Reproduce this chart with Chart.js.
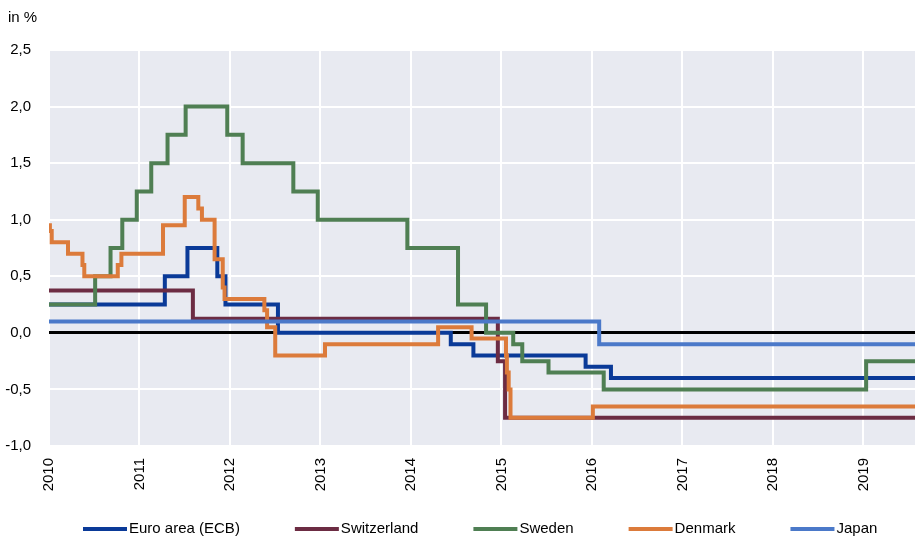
<!DOCTYPE html>
<html lang="en">
<head>
  <meta charset="UTF-8">
  <title>Policy rates</title>
  <style>
    body {
      margin: 0;
      background: #fff;
    }
    .chart-box {
      position: relative;
      width: 915px;
      height: 539px;
    }
  </style>
</head>
<body>
  <div class="chart-box">
    <canvas id="rateChart"></canvas>
  </div>

  <script src="https://cdn.jsdelivr.net/npm/chart.js"></script>
  <script>
    // x range in decimal years
    const xStart = 2010;
    const xEnd = 2019.57;
    const yearTicks = [2010, 2011, 2012, 2013, 2014, 2015, 2016, 2017, 2018, 2019];

    // change dates (decimal years) and the new rate from that date on
    const euroDates = [2010.0, 2011.28, 2011.53, 2011.86, 2011.95, 2012.53, 2014.44, 2014.69, 2015.93, 2016.21];
    const euroRates = [0.25, 0.5, 0.75, 0.5, 0.25, 0.0, -0.1, -0.2, -0.3, -0.4];

    const swissDates = [2010.0, 2011.59, 2014.96, 2015.04];
    const swissRates = [0.375, 0.125, -0.25, -0.75];

    const swedenDates = [2010.0, 2010.51, 2010.68, 2010.81, 2010.97, 2011.13, 2011.31, 2011.51, 2011.97, 2012.14,
      2012.70, 2012.97, 2013.96, 2014.52, 2014.83, 2015.13, 2015.23, 2015.52, 2016.13, 2019.03];
    const swedenRates = [0.25, 0.5, 0.75, 1.0, 1.25, 1.5, 1.75, 2.0, 1.75, 1.5,
      1.25, 1.0, 0.75, 0.25, 0.0, -0.1, -0.25, -0.35, -0.5, -0.25];

    const denmarkDates = [2010.0, 2010.01, 2010.03, 2010.21, 2010.37, 2010.39, 2010.76, 2010.80, 2011.26, 2011.50,
      2011.65, 2011.69, 2011.83, 2011.92, 2011.94, 2012.38, 2012.41, 2012.50, 2013.05, 2014.30,
      2014.67, 2015.05, 2015.06, 2015.08, 2015.10, 2016.01];
    const denmarkRates = [0.95, 0.9, 0.8, 0.7, 0.6, 0.5, 0.6, 0.7, 0.95, 1.2,
      1.1, 1.0, 0.65, 0.4, 0.3, 0.2, 0.05, -0.2, -0.1, 0.05,
      -0.05, -0.2, -0.35, -0.5, -0.75, -0.65];

    const japanDates = [2010.0, 2016.08];
    const japanRates = [0.1, -0.1];

    const seriesNames = ['Euro area (ECB)', 'Switzerland', 'Sweden', 'Denmark', 'Japan'];
    const seriesColors = ['#0a3a98', '#6c2c43', '#4f7f53', '#dc7b3b', '#4b79c9'];

    // turn dates + rates into step points, holding the last value to the end
    function toPoints(dates, rates) {
      const pts = dates.map((d, i) => ({ x: d, y: rates[i] }));
      pts.push({ x: xEnd, y: rates[rates.length - 1] });
      return pts;
    }

    const allSeries = [
      toPoints(euroDates, euroRates),
      toPoints(swissDates, swissRates),
      toPoints(swedenDates, swedenRates),
      toPoints(denmarkDates, denmarkRates),
      toPoints(japanDates, japanRates)
    ];

    // grey plot background + "in %" label
    const plotBackground = {
      id: 'plotBackground',
      beforeDraw(chart) {
        const { ctx, chartArea } = chart;
        ctx.save();
        ctx.fillStyle = '#e8eaf1';
        ctx.fillRect(chartArea.left, chartArea.top, chartArea.right - chartArea.left, chartArea.bottom - chartArea.top);
        ctx.fillStyle = '#000';
        ctx.font = '15px "Liberation Sans", Arial, sans-serif';
        ctx.textBaseline = 'middle';
        ctx.fillText('in %', 8, 18);
        ctx.restore();
      }
    };

    // legend row at the bottom, lines + labels
    const bottomLegend = {
      id: 'bottomLegend',
      afterDraw(chart) {
        const { ctx } = chart;
        const y = 529;
        let x = 83;
        ctx.save();
        ctx.font = '15px "Liberation Sans", Arial, sans-serif';
        ctx.textBaseline = 'middle';
        chart.data.datasets.forEach(ds => {
          ctx.strokeStyle = ds.borderColor;
          ctx.lineWidth = 4;
          ctx.beginPath();
          ctx.moveTo(x, y);
          ctx.lineTo(x + 44, y);
          ctx.stroke();
          ctx.fillStyle = '#000';
          ctx.fillText(ds.label, x + 46, y);
          x += 46 + ctx.measureText(ds.label).width + 55;
        });
        ctx.restore();
      }
    };

    const ctx = document.getElementById('rateChart').getContext('2d');
    new Chart(ctx, {
      type: 'line',
      data: {
        datasets: allSeries.map((pts, i) => ({
          label: seriesNames[i],
          data: pts,
          borderColor: seriesColors[i],
          backgroundColor: seriesColors[i],
          borderWidth: 4,
          stepped: true,
          pointRadius: 0,
          fill: false,
          order: seriesNames.length - i
        }))
      },
      options: {
        responsive: true,
        maintainAspectRatio: false,
        animation: false,
        layout: { padding: { top: 50, right: 0, left: 0, bottom: 0 } },
        plugins: {
          legend: { display: false },
          tooltip: { enabled: false }
        },
        scales: {
          x: {
            type: 'linear',
            min: xStart,
            max: xEnd,
            afterFit(scale) { scale.height = 93; },
            afterBuildTicks(scale) {
              scale.ticks = yearTicks.map(v => ({ value: v }));
            },
            grid: { color: '#ffffff', lineWidth: 2, drawTicks: false },
            border: { display: false },
            ticks: {
              minRotation: 90,
              maxRotation: 90,
              padding: 12,
              color: '#000',
              font: { family: '"Liberation Sans", Arial, sans-serif', size: 15 },
              callback: v => String(v)
            }
          },
          y: {
            min: -1,
            max: 2.5,
            afterFit(scale) { scale.width = 49; },
            grid: {
              color: c => (c.tick && c.tick.value === 0 ? '#000000' : '#ffffff'),
              lineWidth: c => (c.tick && c.tick.value === 0 ? 3 : 2),
              drawTicks: false
            },
            border: { display: false },
            ticks: {
              stepSize: 0.5,
              padding: 18,
              color: '#000',
              font: { family: '"Liberation Sans", Arial, sans-serif', size: 15 },
              callback: v => v.toFixed(1).replace('.', ',')
            }
          }
        }
      },
      plugins: [plotBackground, bottomLegend]
    });
  </script>
</body>
</html>
